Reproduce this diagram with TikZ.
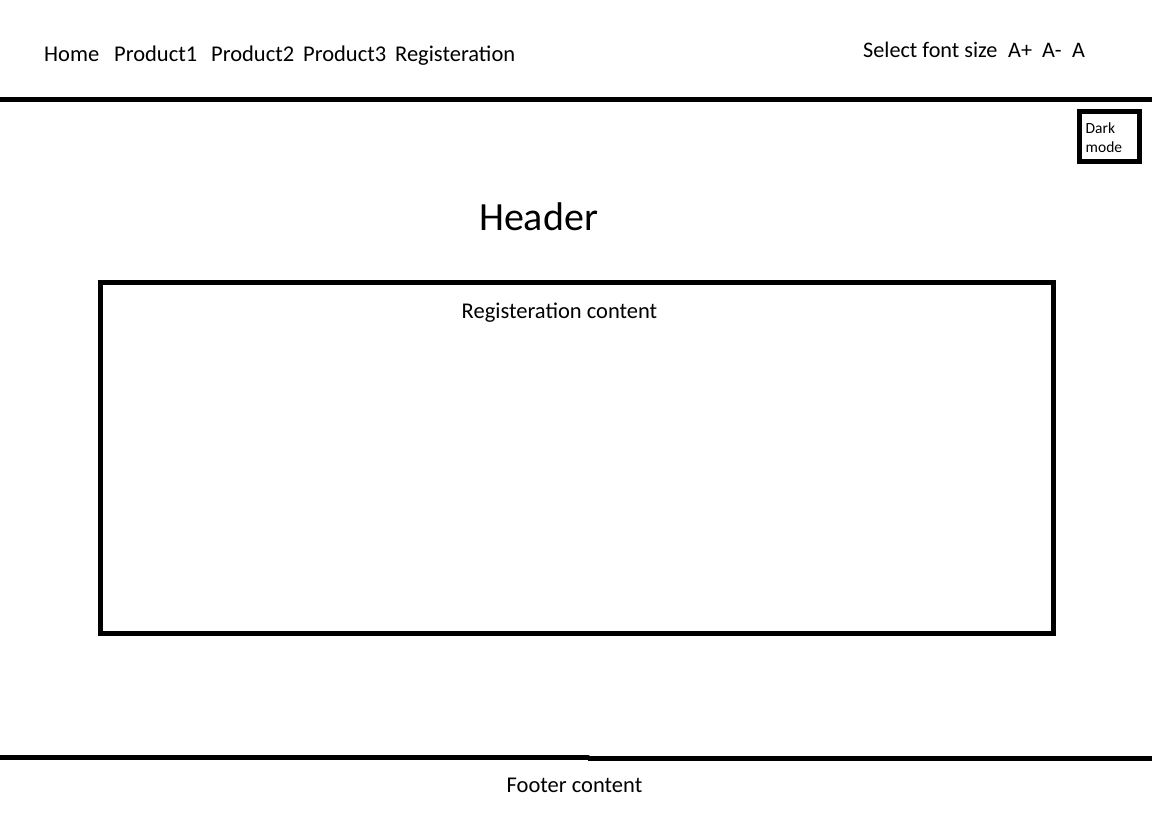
\documentclass[tikz,border=0pt]{standalone}
\usepackage{fontspec}
\setmainfont{Carlito}
\usetikzlibrary{positioning}

\tikzset{
  navitem/.style={anchor=base west, inner sep=0pt, font=\fontsize{22.5}{26}\selectfont},
  fontitem/.style={navitem, font=\fontsize{22.2}{26}\selectfont},
  smalltxt/.style={anchor=base west, inner sep=0pt, font=\fontsize{15.5}{19}\selectfont},
  midtxt/.style={anchor=base, inner sep=0pt, font=\fontsize{22.5}{26}\selectfont},
  bar/.style={line width=5pt},
  frame/.style={draw, line width=5pt, inner sep=0pt}
}

\begin{document}
\begin{tikzpicture}[x=1pt, y=-1pt]
				\useasboundingbox[fill=white] (0,0) rectangle (1152,837);
				% menu
				\node[navitem] (Home) at (44,62) {Home};
				\node[navitem] (Prod1) at (114,62) {Product1};
				\node[navitem] (Prod2) at (211,62) {Product2};
				\node[navitem] (Prod3) at (303,62) {Product3};
				\node[navitem] (Reg) at (395,62) {Registeration};
				\node[fontitem] (Sel) at (863,57.5) {Select font size};
				\node[fontitem] (Aplus) at (1008,57.5) {A+};
				\node[fontitem] (Aminus) at (1042,57.5) {A-};
				\node[fontitem] (Anorm) at (1072,57.5) {A};
				\coordinate (TopL) at (0,100);
				\coordinate (TopR) at (1152,100);
				\draw[bar] (TopL) -- (TopR);
				% dark mode
				\node[frame, minimum width=60pt, minimum height=50pt] (Dark) at (1109,137) {};
				\node[smalltxt] (DarkA) at (1085.5,134) {Dark};
				\node[smalltxt] (DarkB) at (1085.5,153) {mode};
				% header and content
				\node[midtxt, font=\fontsize{40}{44}\selectfont] (Header) at (538.5,230.5) {Header};
				\node[frame, minimum width=953pt, minimum height=351pt] (Content) at (577,458) {};
				\node[midtxt] (ContTxt) at (559.5,319) {Registeration content};
				% footer
				\coordinate (FootL) at (0,757.5);
				\coordinate (FootM) at (588,757.5);
				\coordinate (FootM2) at (588,758.5);
				\coordinate (FootR) at (1152,758.5);
				\draw[bar, line cap=round] (FootL) -- (FootM);
				\draw[bar] (FootM2) -- (FootR);
				\node[midtxt] (Footer) at (574.5,792.5) {Footer content};
			\end{tikzpicture}
\end{document}
